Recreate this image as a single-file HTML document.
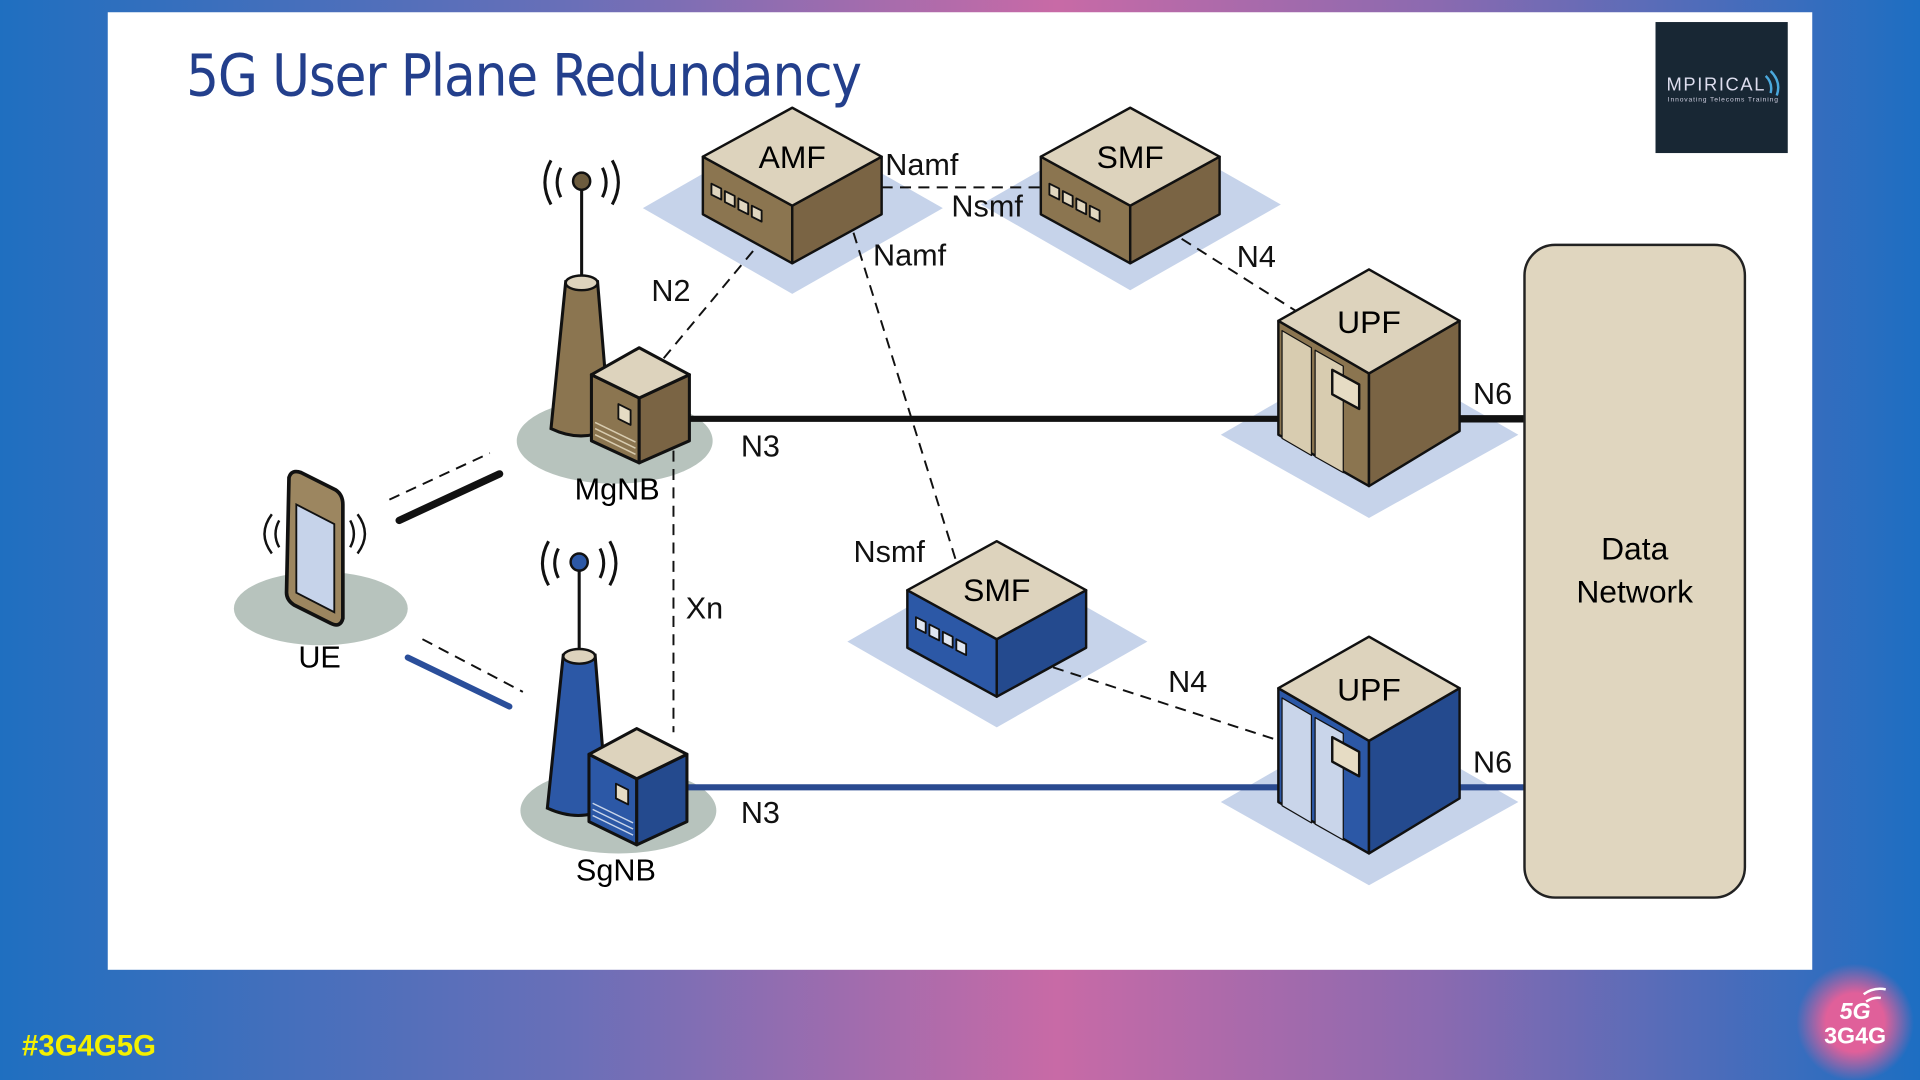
<!DOCTYPE html>
<html><head><meta charset="utf-8"><style>
html,body{margin:0;padding:0;width:1920px;height:1080px;overflow:hidden}
svg{display:block}
text{font-family:"Liberation Sans",Arial,sans-serif}
</style></head><body>
<svg width="1920" height="1080" viewBox="0 0 1568 882" preserveAspectRatio="none" xmlns="http://www.w3.org/2000/svg">
<defs>
<linearGradient id="bg" x1="0" y1="0" x2="1" y2="0">
<stop offset="0" stop-color="#1f6fc0"/><stop offset="0.3" stop-color="#6a6fb8"/><stop offset="0.55" stop-color="#c86aa6"/><stop offset="0.75" stop-color="#8a6ab0"/><stop offset="1" stop-color="#1d6ec2"/>
</linearGradient>
<radialGradient id="glow" cx="0.5" cy="0.5" r="0.5"><stop offset="0.5" stop-color="#e0609a"/><stop offset="1" stop-color="#e0609a" stop-opacity="0"/></radialGradient>
</defs>
<rect width="1568" height="882" fill="url(#bg)"/>
<rect x="88" y="10" width="1392" height="782" fill="#fff"/>
<text x="152" y="78" font-size="47" fill="#233f8c" style="font-family:'DejaVu Sans Condensed','Liberation Sans Narrow','Liberation Sans',sans-serif" textLength="552">5G User Plane Redundancy</text>
<rect x="1352" y="18" width="108" height="107" fill="#182734"/>
<text x="1361" y="74" font-size="15" fill="#dde" textLength="80">MPIRICAL</text>
<path d="M1442 62 q6 6 4 14 M1446 58 q9 9 5 20" stroke="#4aa8dc" stroke-width="2" fill="none"/>
<text x="1362" y="83" font-size="5.5" fill="#ccd" textLength="90">Innovating Telecoms Training</text>

<g fill="#c6d3ea">
<polygon points="525,170 647,100 770,170 647,240"/>
<polygon points="801,167 923,97 1046,167 923,237"/>
<polygon points="692,524 814,454 937,524 814,594"/>
<polygon points="997,355 1118,285 1240,355 1118,423"/>
<polygon points="997,655 1118,585 1240,655 1118,723"/>
</g>
<ellipse cx="502" cy="360" rx="80" ry="35" fill="#b7c3bd"/>
<ellipse cx="505" cy="662" rx="80" ry="35" fill="#b7c3bd"/>
<ellipse cx="262" cy="497" rx="71" ry="30" fill="#b7c3bd"/>

<g stroke="#111" stroke-width="1.6" stroke-dasharray="9,6" fill="none">
<line x1="720" y1="153" x2="852" y2="153"/>
<line x1="615" y1="205" x2="540" y2="295"/>
<line x1="697" y1="190" x2="782" y2="462"/>
<line x1="965" y1="195" x2="1060" y2="255"/>
<line x1="860" y1="545" x2="1045" y2="605"/>
<line x1="550" y1="368" x2="550" y2="598"/>
<line x1="318" y1="408" x2="400" y2="370"/>
<line x1="345" y1="522" x2="427" y2="565"/>
</g>
<line x1="560" y1="342" x2="1245" y2="342" stroke="#111" stroke-width="5"/>
<line x1="1190" y1="342" x2="1245" y2="342" stroke="#111" stroke-width="6"/>
<line x1="558" y1="643" x2="1245" y2="643" stroke="#2a4a90" stroke-width="5"/>
<line x1="326" y1="425" x2="408" y2="387" stroke="#111" stroke-width="6" stroke-linecap="round"/>
<line x1="333" y1="537" x2="416" y2="577" stroke="#2a4e9a" stroke-width="5" stroke-linecap="round"/>

<!-- AMF -->
<g transform="translate(647,88)" stroke="#111" stroke-width="2" stroke-linejoin="round">
<polygon points="-73,40 0,80 0,127 -73,87" fill="#8b7550"/>
<polygon points="73,40 0,80 0,127 73,87" fill="#7a6444"/>
<polygon points="0,0 73,40 0,80 -73,40" fill="#ddd3bd"/>
<g fill="#e0d6bf" stroke-width="1.5"><polygon points="-66,62 -58,66 -58,75 -66,71"/><polygon points="-55,68 -47,72 -47,81 -55,77"/><polygon points="-44,74 -36,78 -36,87 -44,83"/><polygon points="-33,80 -25,84 -25,93 -33,89"/></g>
</g>
<text x="647" y="137" font-size="26" text-anchor="middle">AMF</text>
<g transform="translate(923,88)" stroke="#111" stroke-width="2" stroke-linejoin="round">
<polygon points="-73,40 0,80 0,127 -73,87" fill="#8b7550"/>
<polygon points="73,40 0,80 0,127 73,87" fill="#7a6444"/>
<polygon points="0,0 73,40 0,80 -73,40" fill="#ddd3bd"/>
<g fill="#e0d6bf" stroke-width="1.5"><polygon points="-66,62 -58,66 -58,75 -66,71"/><polygon points="-55,68 -47,72 -47,81 -55,77"/><polygon points="-44,74 -36,78 -36,87 -44,83"/><polygon points="-33,80 -25,84 -25,93 -33,89"/></g>
</g>
<text x="923" y="137" font-size="26" text-anchor="middle">SMF</text>
<g transform="translate(814,442)" stroke="#111" stroke-width="2" stroke-linejoin="round">
<polygon points="-73,40 0,80 0,127 -73,87" fill="#2c58a6"/>
<polygon points="73,40 0,80 0,127 73,87" fill="#244a8e"/>
<polygon points="0,0 73,40 0,80 -73,40" fill="#ddd3bd"/>
<g fill="#e0e6f0" stroke-width="1.5"><polygon points="-66,62 -58,66 -58,75 -66,71"/><polygon points="-55,68 -47,72 -47,81 -55,77"/><polygon points="-44,74 -36,78 -36,87 -44,83"/><polygon points="-33,80 -25,84 -25,93 -33,89"/></g>
</g>
<text x="814" y="491" font-size="26" text-anchor="middle">SMF</text>

<!-- UPF brown -->
<g transform="translate(1118,220)" stroke="#111" stroke-width="2" stroke-linejoin="round">
<polygon points="-74,42 0,85 0,177 -74,135" fill="#8b7550"/>
<polygon points="74,42 0,85 0,177 74,132" fill="#7a6444"/>
<polygon points="0,0 74,42 0,85 -74,42" fill="#ddd3bd"/>
<polygon points="-71,50 -47,64 -47,152 -71,138" fill="#d8ccb0" stroke-width="1"/>
<polygon points="-44,66 -21,79 -21,166 -44,153" fill="#d8ccb0" stroke-width="1"/>
<polygon points="-30,82 -8,94 -8,114 -30,102" fill="#e6dcc4"/>
</g>
<text x="1118" y="272" font-size="26" text-anchor="middle">UPF</text>
<g transform="translate(1118,520)" stroke="#111" stroke-width="2" stroke-linejoin="round">
<polygon points="-74,42 0,85 0,177 -74,135" fill="#2c58a6"/>
<polygon points="74,42 0,85 0,177 74,132" fill="#244a8e"/>
<polygon points="0,0 74,42 0,85 -74,42" fill="#ddd3bd"/>
<polygon points="-71,50 -47,64 -47,152 -71,138" fill="#c9d5ea" stroke-width="1"/>
<polygon points="-44,66 -21,79 -21,166 -44,153" fill="#c9d5ea" stroke-width="1"/>
<polygon points="-30,82 -8,94 -8,114 -30,102" fill="#e6dcc4"/>
</g>
<text x="1118" y="572" font-size="26" text-anchor="middle">UPF</text>

<rect x="1245" y="200" width="180" height="533" rx="25" fill="#e0d6bf" stroke="#222" stroke-width="2"/>
<text x="1335" y="457" font-size="26" text-anchor="middle">Data</text>
<text x="1335" y="492" font-size="26" text-anchor="middle">Network</text>

<!-- MgNB -->
<g stroke="#111" stroke-width="2.5" fill="none">
<path d="M450 131 q-10 18 0 36 M458 137 q-6 12 0 24 M500 131 q10 18 0 36 M492 137 q6 12 0 24"/>
<line x1="475" y1="150" x2="475" y2="232"/>
</g>
<circle cx="475" cy="148" r="7" fill="#6d5c3e" stroke="#111" stroke-width="2"/>
<path d="M462 230 L488 230 L498 350 Q475 362 450 350 Z" fill="#8b7550" stroke="#111" stroke-width="2.5"/>
<ellipse cx="475" cy="231" rx="13" ry="6" fill="#ddd3bd" stroke="#111" stroke-width="2"/>
<g stroke="#111" stroke-width="2.5" stroke-linejoin="round">
<polygon points="483,306 522,325 522,378 483,360" fill="#8b7550"/>
<polygon points="563,306 522,325 522,378 563,360" fill="#7a6444"/>
<polygon points="522,284 563,306 522,325 483,306" fill="#ddd3bd"/>
<polygon points="505,330 515,335 515,347 505,342" fill="#e6dcc4" stroke-width="1.5"/>
</g>
<g stroke="#d8ccb0" stroke-width="1.2"><line x1="486" y1="345" x2="519" y2="361"/><line x1="486" y1="350" x2="519" y2="366"/><line x1="486" y1="355" x2="519" y2="371"/></g>
<text x="504" y="408" font-size="25" text-anchor="middle">MgNB</text>

<!-- SgNB -->
<g stroke="#111" stroke-width="2.5" fill="none">
<path d="M448 442 q-10 18 0 36 M456 448 q-6 12 0 24 M498 442 q10 18 0 36 M490 448 q6 12 0 24"/>
<line x1="473" y1="462" x2="473" y2="535"/>
</g>
<circle cx="473" cy="459" r="7" fill="#2c58a6" stroke="#111" stroke-width="2"/>
<path d="M460 535 L486 535 L496 660 Q473 672 447 660 Z" fill="#2c58a6" stroke="#111" stroke-width="2.5"/>
<ellipse cx="473" cy="536" rx="13" ry="6" fill="#ddd3bd" stroke="#111" stroke-width="2"/>
<g stroke="#111" stroke-width="2.5" stroke-linejoin="round">
<polygon points="481,616 520,636 520,690 481,671" fill="#2c58a6"/>
<polygon points="561,616 520,636 520,690 561,671" fill="#244a8e"/>
<polygon points="520,595 561,616 520,636 481,616" fill="#ddd3bd"/>
<polygon points="503,640 513,645 513,657 503,652" fill="#e6dcc4" stroke-width="1.5"/>
</g>
<g stroke="#c9d5ea" stroke-width="1.2"><line x1="484" y1="656" x2="517" y2="672"/><line x1="484" y1="661" x2="517" y2="677"/><line x1="484" y1="666" x2="517" y2="682"/></g>
<text x="503" y="719" font-size="25" text-anchor="middle">SgNB</text>

<!-- UE -->
<g stroke="#111" stroke-width="2" fill="none">
<path d="M222 420 q-12 16 0 32 M228 425 q-6 11 0 22 M292 420 q12 16 0 32 M286 425 q6 11 0 22"/>
</g>
<path d="M236 390 Q238 383 246 386 L274 400 Q280 404 280 412 L280 505 Q278 513 270 509 L240 494 Q234 490 234 484 Z" fill="#9c8660" stroke="#111" stroke-width="3"/>
<polygon points="242,412 273,428 273,500 242,484" fill="#c6d3ea" stroke="#111" stroke-width="1.5"/>
<text x="261" y="545" font-size="25" text-anchor="middle">UE</text>

<g font-size="25" fill="#111">
<text x="723" y="143">Namf</text>
<text x="777" y="177">Nsmf</text>
<text x="713" y="217">Namf</text>
<text x="532" y="246">N2</text>
<text x="1010" y="218">N4</text>
<text x="605" y="373">N3</text>
<text x="1203" y="330">N6</text>
<text x="697" y="459">Nsmf</text>
<text x="560" y="505">Xn</text>
<text x="954" y="565">N4</text>
<text x="605" y="672">N3</text>
<text x="1203" y="631">N6</text>
</g>

<text x="18" y="862" font-size="24" font-weight="bold" fill="#f4f000">#3G4G5G</text>
<circle cx="1515" cy="835" r="48" fill="url(#glow)"/>
<text x="1515" y="832" font-size="19" font-weight="bold" font-style="italic" fill="#fff" text-anchor="middle">5G</text>
<text x="1515" y="852" font-size="19" font-weight="bold" fill="#fff" text-anchor="middle">3G4G</text>
<path d="M1522 812 q8 -6 18 -4 M1524 818 q6 -4 12 -3" stroke="#fff" stroke-width="2" fill="none"/>
</svg>
</body></html>
